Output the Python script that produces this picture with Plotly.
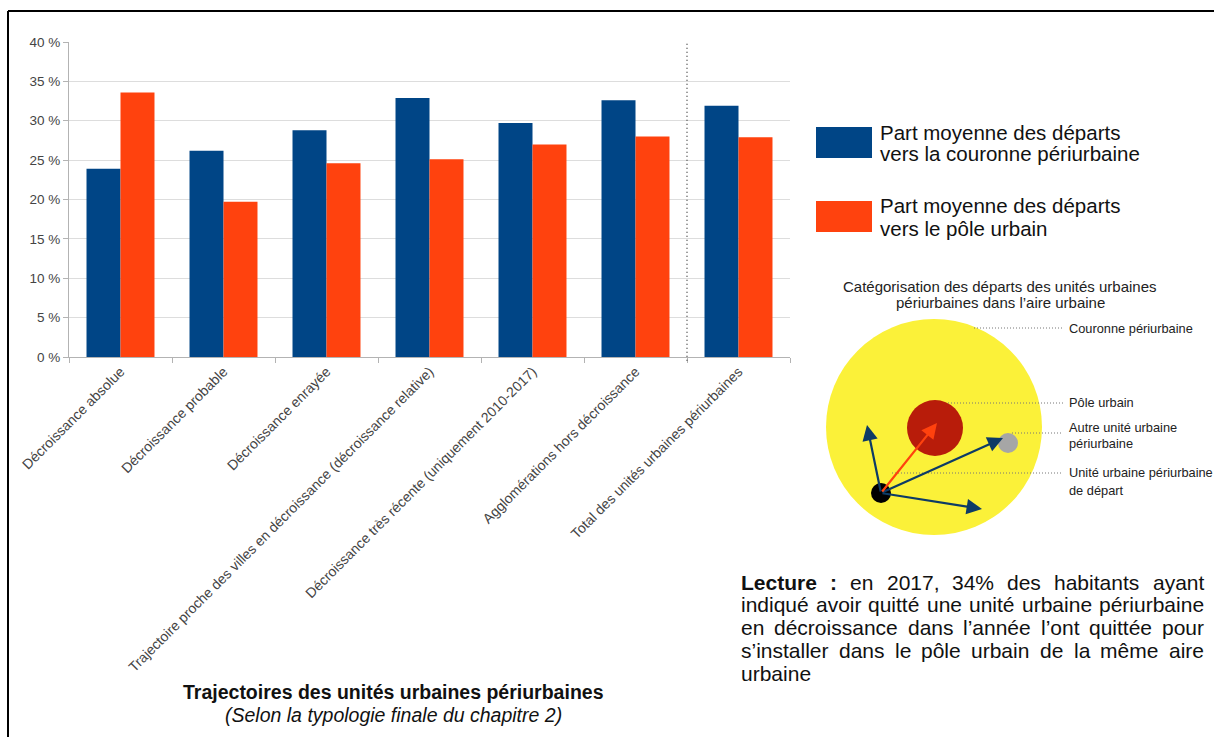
import plotly.graph_objects as go

categories = [
    "Décroissance absolue",
    "Décroissance probable",
    "Décroissance enrayée",
    "Trajectoire proche des villes en décroissance (décroissance relative)",
    "Décroissance très récente (uniquement 2010-2017)",
    "Agglomérations hors décroissance",
    "Total des unités urbaines périurbaines",
]
couronne = [23.9, 26.2, 28.8, 32.9, 29.7, 32.6, 31.9]
pole = [33.6, 19.7, 24.6, 25.1, 27.0, 28.0, 27.9]
series_names = [
    ["Part moyenne des départs", "vers la couronne périurbaine"],
    ["Part moyenne des départs", "vers le pôle urbain"],
]
y_ticks = [0, 5, 10, 15, 20, 25, 30, 35, 40]
lecture_lines = [
    "Lecture : en 2017, 34% des habitants ayant",
    "indiqué avoir quitté une unité urbaine périurbaine",
    "en décroissance dans l’année l’ont quittée pour",
    "s’installer dans le pôle urbain de la même aire",
    "urbaine",
]
bold_words = {"Lecture", ":"}

BLUE = "#004586"
ORANGE = "#ff420e"
FONT = "Liberation Sans"

W, H = 1214, 737
L, R, T, B = 69, 424, 42, 380
PW, PH = W - L - R, H - T - B


def px(x):
    return (x - L) / PW


def py(y):
    return (H - B - y) / PH


def text(x, y, t, size, anchor="left", color="#111"):
    return dict(xref="paper", yref="paper", x=px(x), y=py(y), text=t, showarrow=False,
                xanchor=anchor, yanchor="middle", align=anchor,
                font=dict(family=FONT, size=size, color=color))


# Arial-compatible advance widths (1/1000 em) for justification of the note
REG = {c: 556 for c in "abdeghnopqué0123456789ôê"}
REG.update({"c": 500, "k": 500, "s": 500, "v": 500, "x": 500, "y": 500, "z": 500,
            "f": 278, "t": 278, "i": 222, "j": 222, "l": 222, "r": 333, "m": 833,
            "w": 722, " ": 278, ",": 278, ":": 278, "%": 889, "’": 222, "L": 556})
BOLD = {"L": 611, "e": 556, "c": 556, "t": 333, "u": 611, "r": 389, ":": 333}


def word_width(w, size, bold=False):
    table = BOLD if bold else REG
    return sum(table.get(c, 556) for c in w) * size / 1000


fig = go.Figure()
fig.add_bar(x=categories, y=couronne, name=" ".join(series_names[0]), marker_color=BLUE,
            marker_line_width=0)
fig.add_bar(x=categories, y=pole, name=" ".join(series_names[1]), marker_color=ORANGE,
            marker_line_width=0)

shapes = []
annotations = []

# separator before the total
shapes.append(dict(type="line", xref="x", yref="paper", x0=len(categories) - 1.5,
                   x1=len(categories) - 1.5, y0=-0.012, y1=1,
                   line=dict(color="#555", width=1.5, dash="1px,3px")))

# outer frame (top and left)
shapes.append(dict(type="line", xref="paper", yref="paper", x0=px(8), x1=px(1220),
                   y0=py(11), y1=py(11), line=dict(color="black", width=2)))
shapes.append(dict(type="line", xref="paper", yref="paper", x0=px(8), x1=px(8),
                   y0=py(11), y1=py(745), line=dict(color="black", width=2)))

# custom legend
leg = [(BLUE, 127, 158, (132, 153)), (ORANGE, 201, 232, (206, 228))]
for (col, y0, y1, ys), name in zip(leg, series_names):
    shapes.append(dict(type="rect", xref="paper", yref="paper", x0=px(816), x1=px(872),
                       y0=py(y0), y1=py(y1), fillcolor=col, line_width=0))
    for yy, line in zip(ys, name):
        annotations.append(text(878, yy, line, 20.5))

# diagram
annotations.append(text(1000, 286, "Catégorisation des départs des unités urbaines", 15,
                        "center", "#222"))
annotations.append(text(1000, 302, "périurbaines dans l’aire urbaine", 15, "center", "#222"))


def circle(cx, cy, r, col):
    shapes.append(dict(type="circle", xref="paper", yref="paper", x0=px(cx - r), x1=px(cx + r),
                       y0=py(cy + r), y1=py(cy - r), fillcolor=col, line_width=0))


circle(934, 427, 108, "#fbf139")
circle(935, 428, 28, "#b81c0a")
circle(1008, 443, 10, "#a6a6a6")

# leader lines
for x0, y in [(974, 328), (948, 403), (1012, 433), (892, 473)]:
    shapes.append(dict(type="line", xref="paper", yref="paper", x0=px(x0), x1=px(1063),
                       y0=py(y), y1=py(y), line=dict(color="#777", width=1, dash="1px,2px")))

labels = [
    (328, "Couronne périurbaine"),
    (402, "Pôle urbain"),
    (427, "Autre unité urbaine"),
    (443, "périurbaine"),
    (472, "Unité urbaine périurbaine"),
    (490, "de départ"),
]
for y, t in labels:
    annotations.append(text(1067, y, t, 12.8, "left", "#222"))

# arrows from the departure unit
sx, sy = 881, 493
for tx, ty, col in [(867, 425, "#0d3b66"), (1003, 438, "#0d3b66"), (982, 509, "#0d3b66"),
                    (937, 423, "#ff420e")]:
    annotations.append(dict(xref="paper", yref="paper", x=px(tx), y=py(ty), ax=sx - tx,
                            ay=sy - ty, text="", showarrow=True, arrowhead=2, arrowsize=1.4,
                            arrowwidth=2.2, arrowcolor=col, standoff=0, startstandoff=0))

circle(881, 493, 10, "#000000")

# reading note, justified (last line left-aligned)
NOTE_X0, NOTE_X1, NOTE_SIZE = 740, 1203, 21
for i, line in enumerate(lecture_lines):
    y = 582 + i * 22.8
    words = line.split(" ")
    widths = [word_width(w, NOTE_SIZE, w in bold_words) for w in words]
    last = i == len(lecture_lines) - 1
    space = word_width(" ", NOTE_SIZE)
    if last or len(words) < 2:
        gap = space
    else:
        gap = max(space, (NOTE_X1 - NOTE_X0 - sum(widths)) / (len(words) - 1))
    x = NOTE_X0
    for w, ww in zip(words, widths):
        t = f"<b>{w}</b>" if w in bold_words else w
        a = text(x, y, t, NOTE_SIZE)
        a["borderpad"] = 0
        annotations.append(a)
        x += ww + gap

# axis title block
annotations.append(text(393, 692, "<b>Trajectoires des unités urbaines périurbaines</b>", 19.5,
                        "center"))
annotations.append(text(393, 715, "<i>(Selon la typologie finale du chapitre 2)</i>", 19.5,
                        "center"))

fig.update_layout(
    width=W, height=H,
    margin=dict(l=L, r=R, t=T, b=B, autoexpand=False),
    paper_bgcolor="white", plot_bgcolor="white",
    barmode="group", bargap=0.34, bargroupgap=0,
    showlegend=False,
    shapes=shapes, annotations=annotations,
    font=dict(family=FONT, color="#444"),
)
fig.update_xaxes(tickangle=-45, tickfont=dict(family=FONT, size=14, color="#444"),
                 tickson="boundaries", ticks="outside", ticklen=5, tickcolor="#b3b3b3",
                 showline=True, linecolor="#b3b3b3", linewidth=1, showgrid=False,
                 automargin=False)
fig.update_yaxes(range=[0, 40], tickvals=y_ticks, ticktext=[f"{v} %" for v in y_ticks],
                 tickfont=dict(family=FONT, size=13.5, color="#444"), ticks="outside",
                 ticklen=5, tickcolor="#b3b3b3", showline=True, linecolor="#b3b3b3",
                 linewidth=1, gridcolor="#dddddd", gridwidth=1, zeroline=False,
                 automargin=False)

fig.write_html("out.html", config={"displayModeBar": False},
               post_script="document.body.style.margin='0px';")
